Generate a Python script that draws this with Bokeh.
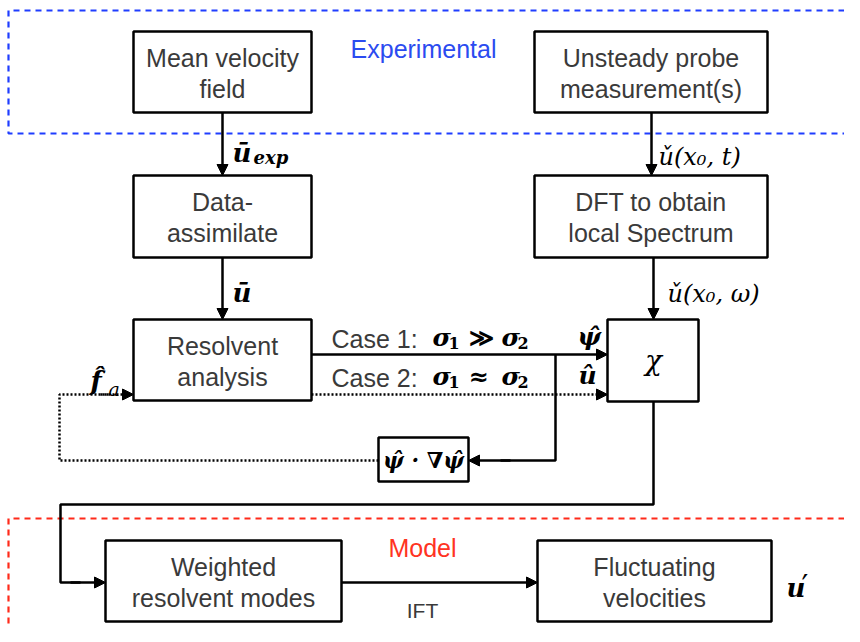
from bokeh.plotting import figure
from bokeh.models import Range1d, Arrow, NormalHead
from bokeh.core.properties import value
from bokeh.embed import file_html
from bokeh.resources import INLINE

# ---------------- content ----------------
box_labels = [
    ["Mean velocity", "field"],
    ["Unsteady probe", "measurement(s)"],
    ["Data-", "assimilate"],
    ["DFT to obtain", "local Spectrum"],
    ["Resolvent", "analysis"],
    ["Weighted", "resolvent modes"],
    ["Fluctuating", "velocities"],
]
region_labels = ["Experimental", "Model"]
case_labels = ["Case 1:", "Case 2:"]
case_relations = ["≫", "≈"]
sigma_symbol = "σ"
sigma_indices = ["1", "2"]
chi_label = "χ"
nonlin_label = "ψ̂ · ∇ψ̂"
ift_label = "IFT"

# ---------------- layout (pixel space of the picture) ----------------
box_rects = [
    (133, 31, 311, 112),
    (534, 31, 767, 112),
    (133, 175, 311, 257),
    (534, 175, 767, 257),
    (133, 319, 311, 400),
    (105, 540, 341, 621),
    (537, 540, 771, 621),
]
chi_rect = (607, 319, 698, 401)
nonlin_rect = (378, 437, 468, 481)

SANS = "Liberation Sans"
SERIF = "DejaVu Serif"
TXT = "#3a3a3a"
BOX_FS = 25
DY = -9  # baseline correction

p = figure(width=844, height=626, x_range=Range1d(0, 844), y_range=Range1d(626, 0),
           output_backend="svg", toolbar_location=None, min_border=0)
p.axis.visible = False
p.grid.visible = False
p.outline_line_color = None
p.background_fill_color = "white"


def txt(x, y, s, size, font=SANS, style="normal", color=TXT, align="center"):
    p.text(x=[x], y=[y + DY], text=[s], text_font=value(font), text_font_size=f"{size}px",
           text_font_style=style, text_color=color, text_align=align, text_baseline="alphabetic")


def mtxt(x, y, s, size, style="bold italic", align="left"):
    txt(x, y, s, size, font=SERIF, style=style, color="black", align=align)


def path(xs, ys, dash="solid", width=2.5):
    p.line(xs, ys, line_color="black", line_width=width, line_dash=dash)


def arrow(x0, y0, x1, y1, dash="solid"):
    p.add_layout(Arrow(x_start=x0, y_start=y0, x_end=x1, y_end=y1,
                       line_color="black", line_width=2.5, line_dash=dash,
                       end=NormalHead(size=11, fill_color="black", line_color="black", line_width=1)))


# region frames
p.line([844, 8, 8, 844], [10, 10, 133, 133], line_color="#1f3dff", line_width=2.2, line_dash="6 5")
p.line([844, 8, 8], [518, 518, 626], line_color="#ff2a1a", line_width=2.2, line_dash="6 5")
txt(423, 57, region_labels[0], 25, color="#2b4bf0")
txt(422, 556, region_labels[1], 25, color="#ff3322")

# connectors
arrow(222, 112, 222, 175)
arrow(651, 112, 651, 175)
arrow(222, 257, 222, 319)
arrow(653, 257, 653, 319)
arrow(311, 354, 607, 354)
arrow(311, 394, 607, 394, dash="2 2")
path([555, 555, 500], [354, 460, 460])
arrow(510, 460, 468, 460)
path([378, 59, 59, 110], [460, 460, 394, 394], dash="2 2")
arrow(100, 394, 133, 394, dash="2 2")
path([653, 653, 60, 60, 80], [401, 504, 504, 582, 582])
arrow(70, 582, 105, 582)
arrow(341, 582, 537, 582)

# boxes
for (x0, y0, x1, y1) in box_rects + [chi_rect, nonlin_rect]:
    p.quad(left=[x0], right=[x1], top=[y0], bottom=[y1], fill_color="white",
           line_color="black", line_width=2.5)

for (x0, y0, x1, y1), lines in zip(box_rects, box_labels):
    cx = (x0 + x1) / 2
    txt(cx, y0 + 35, lines[0], BOX_FS)
    txt(cx, y0 + 66, lines[1], BOX_FS)

# math labels
mtxt(653, 369, chi_label, 28, style="italic", align="center")
mtxt(423, 468, nonlin_label, 22, align="center")

mtxt(232, 161, "u\u0304", 26)
mtxt(253, 166, "exp", 18)
mtxt(658, 165, "ǔ(x₀, t)", 24, style="italic")
mtxt(232, 301, "u\u0304", 26)
mtxt(667, 302, "ǔ(x₀, ω)", 24, style="italic")

# case lines
case_y = [347, 386]
for k in range(2):
    y = case_y[k]
    txt(331, y, case_labels[k], BOX_FS, align="left")
    mtxt(432, y - 1, sigma_symbol, 25)
    mtxt(448, y + 4, sigma_indices[0], 16, style="bold")
    mtxt(468, y - 1, case_relations[k], 24, style="bold")
    mtxt(501, y - 1, sigma_symbol, 25)
    mtxt(517, y + 4, sigma_indices[1], 16, style="bold")

mtxt(577, 345, "ψ̂", 25)
mtxt(578, 384, "û", 25)

mtxt(90, 389, "f̂", 26)
mtxt(108, 397, "a", 19, style="italic")

txt(422, 619, ift_label, 21)
mtxt(786, 596, "u", 26)
mtxt(801, 594, "′", 30, style="normal")

open("out.html", "w").write(file_html(p, INLINE))
